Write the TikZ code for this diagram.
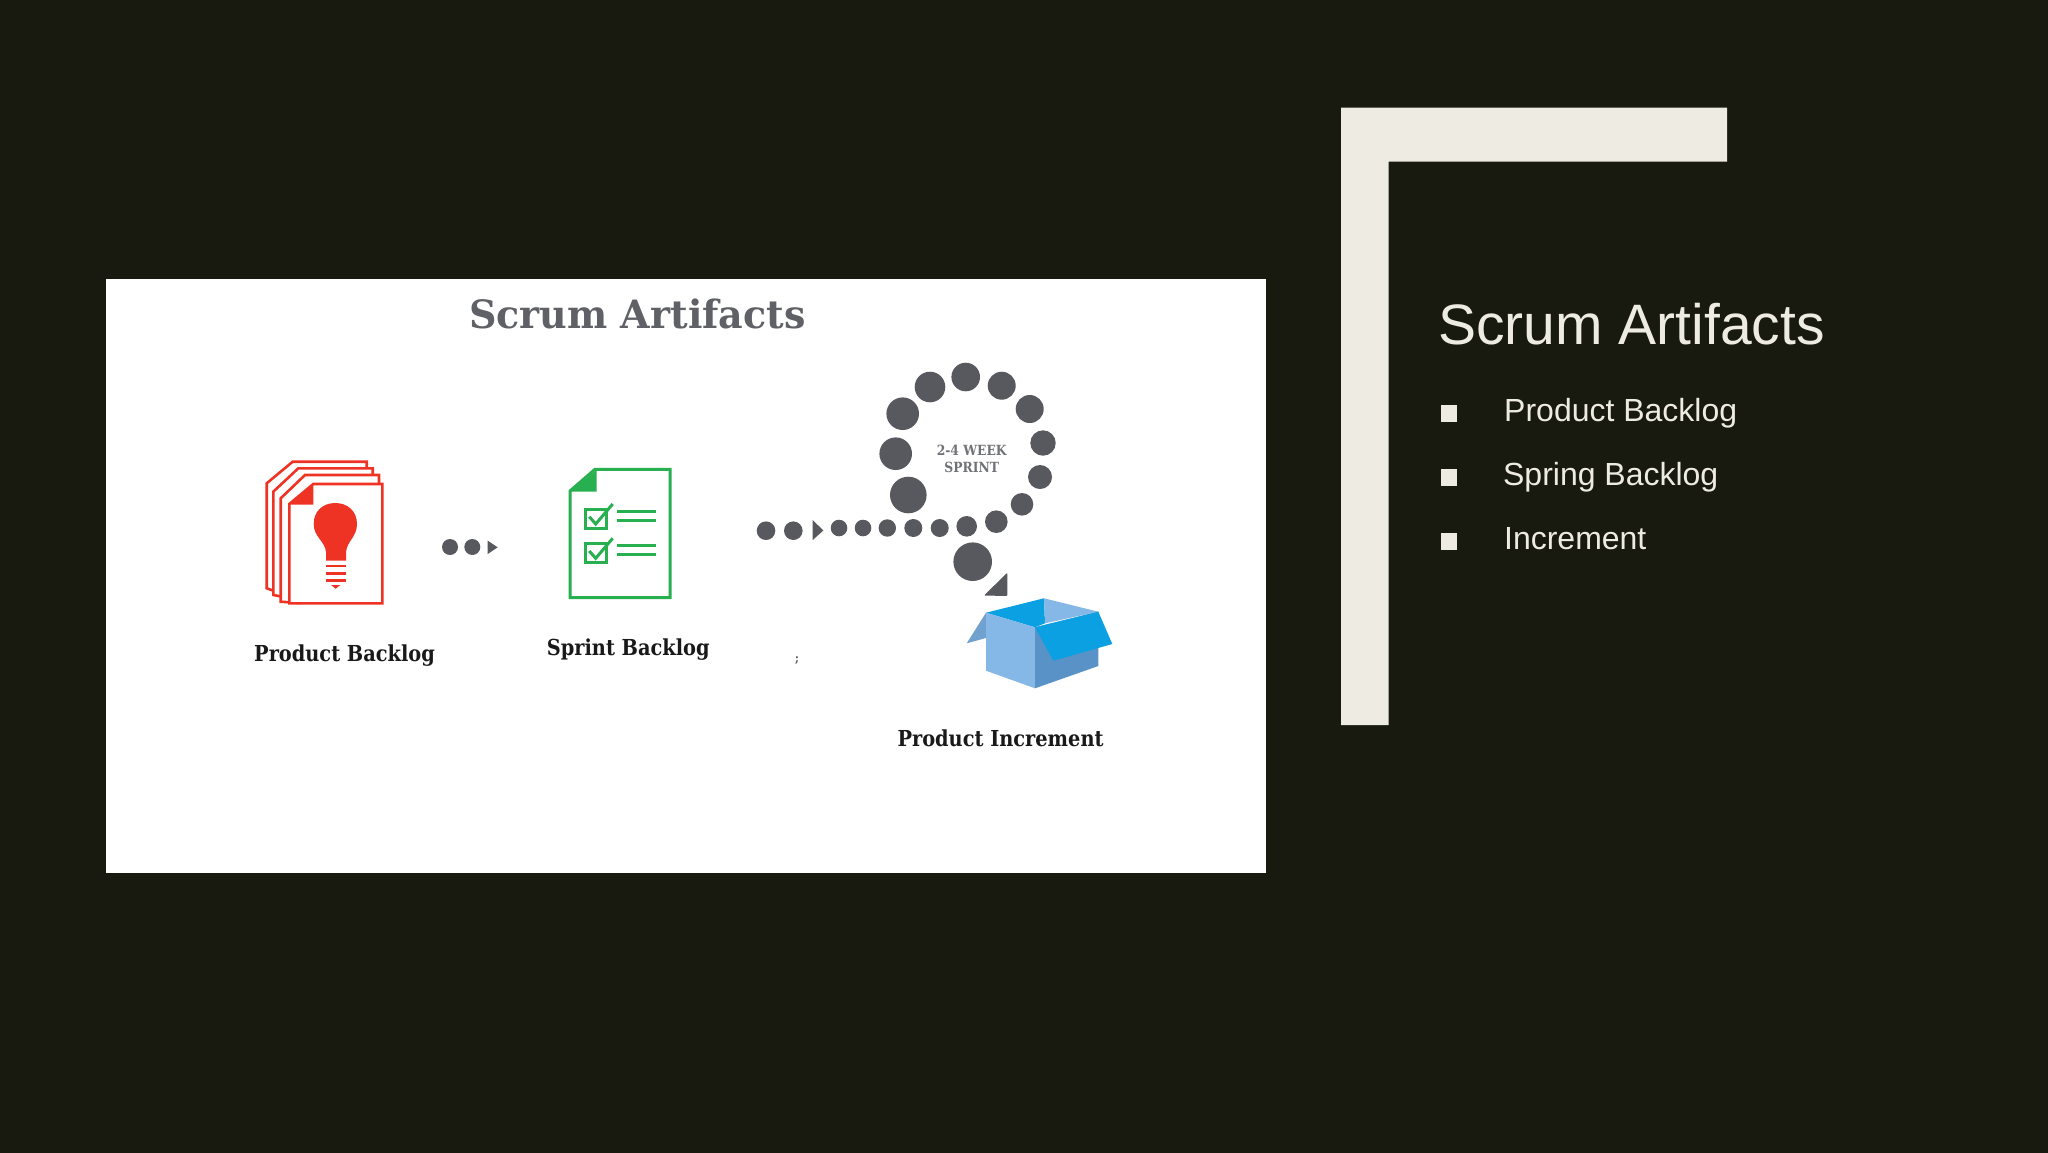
\documentclass[tikz,border=0pt]{standalone}
\usepackage{fontspec}
\usetikzlibrary{positioning}
\newfontfamily\slidefont{Liberation Sans}
\newfontfamily\artfont[FakeStretch=0.88]{DejaVu Serif}
\newfontfamily\arttitlefont[FakeStretch=0.975]{DejaVu Serif}
\definecolor{slidedark}{RGB}{24, 25, 15}
\definecolor{framecream}{RGB}{238, 235, 226}
\definecolor{dotgray}{RGB}{88, 89, 94}
\definecolor{pagered}{RGB}{238, 51, 36}
\definecolor{pagegreen}{RGB}{40, 175, 80}
\definecolor{boxlight}{RGB}{133, 184, 230}
\definecolor{boxmid}{RGB}{88, 146, 198}
\definecolor{boxbright}{RGB}{10, 160, 226}
\tikzset{
    slidetitle/.style={anchor=base west, inner sep=0pt, text=framecream, font=\slidefont\fontsize{57}{60}\selectfont},
    slideitem/.style={anchor=base west, inner sep=0pt, text=framecream, font=\slidefont\fontsize{32}{36}\selectfont},
    artlabel/.style={anchor=base west, inner sep=0pt, text=black!90, font=\artfont\bfseries\fontsize{22}{26}\selectfont},
    bullet/.style={fill=framecream},
    dot/.style={fill=dotgray},
    redpage/.style={draw=pagered, line width=2.6pt, fill=white, line join=miter},
    greenline/.style={draw=pagegreen, line width=3pt}
}
\begin{document}
\begin{tikzpicture}[x=1pt, y=-1pt]
    \useasboundingbox (0,0) rectangle (2048,1152);
    \fill[slidedark] (-3,-3) rectangle (2051,1155);
    \fill[framecream] (1341,107.5) -- (1727,107.5) -- (1727,161.5) -- (1388.6,161.5) -- (1388.6,725) -- (1341,725) -- cycle;
    \fill[white] (106,278.5) rectangle (1266,873);

    \node[slidetitle] (slide title) at (1438,344) {Scrum Artifacts};
    \node[slideitem] (item product) at (1504,421.7) {Product Backlog};
    \node[slideitem] (item spring) at (1502.9,485) {Spring Backlog};
    \node[slideitem] (item increment) at (1503.9,549) {Increment};
    \fill[bullet] (1440.7,405) rectangle (1457,421.7);
    \fill[bullet] (1440.7,469.3) rectangle (1457,485.7);
    \fill[bullet] (1440.7,533.3) rectangle (1457,549.7);

    \node[artlabel, text=dotgray!95, font=\arttitlefont\bfseries\fontsize{39}{42}\selectfont] (art title) at (469,328) {Scrum Artifacts};
    \node[artlabel] (product label) at (254,661) {Product Backlog};
    \node[artlabel] (sprint label) at (546.7,655.5) {Sprint Backlog};
    \node[artlabel] (increment label) at (897.3,746) {Product Increment};
    \node[inner sep=0pt, text=dotgray, font=\artfont\bfseries\fontsize{12}{13}\selectfont] (speck) at (797,661) {;};

    % red stack of pages
    \draw[redpage] (266.7,588.3) -- (266.7,483.3) -- (292.7,461.7) -- (366.7,461.7) -- (366.7,475) -- (300,600) -- cycle;
    \draw[redpage] (273.3,595) -- (273.3,491.7) -- (298.3,468.3) -- (372.7,468.3) -- (372.7,480) -- (300,600) -- cycle;
    \draw[redpage] (280.7,601.7) -- (280.7,498.3) -- (305,475) -- (379,475) -- (379,490) -- (300,603) -- cycle;
    \draw[redpage] (289.3,603.3) -- (289.3,504) -- (313.3,484) -- (382.3,484) -- (382.3,603.3) -- cycle;
    \fill[pagered] (290,504.5) -- (313.3,504.5) -- (313.3,484.5) -- cycle;
    \fill[pagered] (346,560.7) -- (326,560.7) -- (326,552) .. controls (325,541) and (313.7,537) .. (313.7,524)
        .. controls (313.7,511) and (323,503) .. (335.3,503) .. controls (347.5,503) and (357,511) .. (357,524)
        .. controls (357,537) and (347,541) .. (346,552) -- cycle;
    \foreach \y in {566,573.3,580.7}
        \draw[pagered, line width=2.8pt] (326,\y) -- (346,\y);
    \fill[pagered] (331,585) -- (340.3,585) -- (335.7,588.7) -- cycle;

    % green checklist
    \draw[greenline] (570,491) -- (570,597.7) -- (670,597.7) -- (670,469.3) -- (595,469.3) -- cycle;
    \fill[pagegreen] (570,491.7) -- (596.7,491.7) -- (596.7,470) -- cycle;
    \foreach \y in {509,543.3} {
        \draw[greenline] (585,\y) rectangle (606,\y+19);
        \draw[greenline] (589.3,\y+7.7) -- (595.7,\y+15) -- (612.7,\y-5);
        \draw[greenline] (617.3,\y+2) -- (656,\y+2);
        \draw[greenline] (617.3,\y+11) -- (656,\y+11);
    }

    % sprint dots
    \foreach \x/\y/\r in {450/547/8, 472.3/547/8,
        766/530.7/9.3, 793.3/530.7/9.3, 839/528/8.3, 863/528/8.3, 887.3/528/8.7, 913.3/528/9, 939.7/528/9,
        966.7/526.3/10.3, 996.3/521.7/11.3, 1022/504.3/11.3, 1040/477/12, 1043/443/12.7, 1029.7/409/14,
        1001.7/385.7/14, 965.7/377/14.3, 930/387/15.3, 902.7/413.7/16.3, 895.7/453.7/16.3, 908.3/495/18.3,
        972.7/561.7/19.3}
        \fill[dot] (\x,\y) circle[radius=\r];
    \fill[dot] (487.7,540.7) -- (497.7,547.3) -- (487.7,554) -- cycle;
    \fill[dot] (812.7,520) -- (823.3,530.5) -- (812.7,540) -- cycle;
    \fill[dot, rounded corners=1pt] (984,595.5) -- (1007.3,572.7) -- (1007.3,596) -- cycle;
    \node[inner sep=0pt, align=center, text=dotgray!85, font=\artfont\bfseries\fontsize{14}{17}\selectfont] (sprint text) at (971.7,459) {2-4 WEEK\\SPRINT};

    % open box
    \fill[boxmid!85!white] (986,612.7) -- (966.7,643.3) -- (986,638) -- cycle;
    \fill[boxbright] (986,612.7) -- (1044,598.3) -- (1045,623.3) -- (1035,627.3) -- cycle;
    \fill[boxlight] (1044,598.3) -- (1098.3,611.7) -- (1045,623.3) -- cycle;
    \fill[boxlight] (986,612.7) -- (1035,627.3) -- (1035,688.3) -- (986,670.7) -- cycle;
    \fill[boxmid] (1035,627.3) -- (1098.3,611.7) -- (1098.3,666) -- (1035,688.3) -- cycle;
    \fill[boxbright] (1035,627.3) -- (1098.3,611.7) -- (1112.3,644) -- (1053.3,660.7) -- cycle;
\end{tikzpicture}
\end{document}
